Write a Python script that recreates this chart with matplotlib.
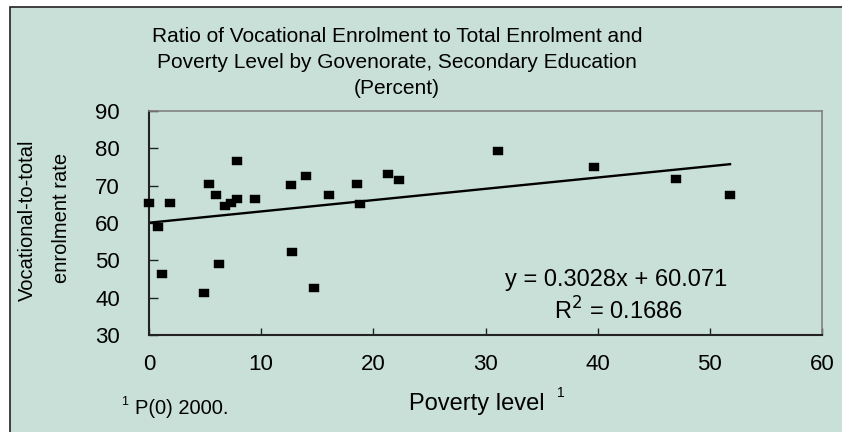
import matplotlib
matplotlib.use("Agg")
import matplotlib.pyplot as plt
from matplotlib.patches import Rectangle
import numpy as np

poverty = [0.0, 0.84, 1.13, 1.87, 4.93, 5.34, 5.96, 6.23, 6.82, 7.27, 7.83, 7.83, 9.43,
           12.67, 12.79, 13.97, 14.71, 16.01, 18.5, 18.77, 21.3, 22.3, 31.08, 39.68, 46.98, 51.8]
vocational = [65.4, 59.0, 46.4, 65.4, 41.3, 70.5, 67.4, 49.1, 64.5, 65.4, 76.6, 66.5, 66.5,
              70.2, 52.2, 72.5, 42.7, 67.4, 70.5, 65.1, 73.2, 71.5, 79.3, 74.9, 71.9, 67.4]
slope = 0.3028
intercept = 60.071
r2 = 0.1686
x_ticks = [0, 10, 20, 30, 40, 50, 60]
y_ticks = [30, 40, 50, 60, 70, 80, 90]

W, H = 842, 432
fig = plt.figure(figsize=(W / 100, H / 100), dpi=100)
fig.patch.set_facecolor("white")
bg = "#C9E0D9"
fig.patches.append(Rectangle((10 / W, -0.05), 1.0, 1 - 7 / H + 0.05, transform=fig.transFigure,
                             facecolor=bg, edgecolor="#222222", linewidth=1.2, zorder=-10))

ax = fig.add_axes([149 / W, 1 - 335 / H, (822 - 149) / W, (335 - 111) / H])
ax.set_zorder(1)
ax.set_facecolor(bg)
ax.set_xlim(0, 60)
ax.set_ylim(30, 90)
for s in ["top", "right"]:
    ax.spines[s].set_color("#808080")
    ax.spines[s].set_linewidth(1.2)
for s in ["left", "bottom"]:
    ax.spines[s].set_color("#222222")
    ax.spines[s].set_linewidth(1.5)

font = ["Liberation Sans", "DejaVu Sans"]
ax.set_xticks(x_ticks)
ax.set_yticks(y_ticks)
ax.tick_params(axis="both", direction="in", colors="#222222", labelcolor="black",
               labelsize=16, width=1.0)
ax.tick_params(axis="y", length=6.5, pad=21)
ax.tick_params(axis="x", length=5, pad=14)
for lab in ax.get_xticklabels() + ax.get_yticklabels():
    lab.set_family(font)

marker = [(-1.4, -1), (1.4, -1), (1.4, 1), (-1.4, 1), (-1.4, -1)]
ax.scatter(poverty, vocational, marker=marker, s=62, color="black", linewidths=0.3,
           edgecolors="black", zorder=3, clip_on=False)
xs = np.array([min(poverty), max(poverty)])
ax.plot(xs, slope * xs + intercept, color="black", linewidth=1.7, zorder=2)

fig.text(616 / W, 1 - 280 / H, f"y = {slope}x + {intercept}",
         ha="center", va="center", fontsize=17, family=font, zorder=5)
fig.text(618 / W, 1 - 311 / H, f"R$^{{2}}$ = {r2}",
         ha="center", va="center", fontsize=17, family=font, zorder=5)

for i, line in enumerate(["Ratio of Vocational Enrolment to Total Enrolment and",
                          "Poverty Level by Govenorate, Secondary Education",
                          "(Percent)"]):
    fig.text(397 / W, 1 - (36 + 26.5 * i) / H, line,
             ha="center", va="center", fontsize=15, family=font)

fig.text(27 / W, 1 - 220 / H, "Vocational-to-total", rotation=90, ha="center", va="center",
         fontsize=14.5, family=font)
fig.text(62 / W, 1 - 218 / H, "enrolment rate", rotation=90, ha="center", va="center",
         fontsize=14.5, family=font)

fig.text(477 / W, 1 - 404 / H, "Poverty level", ha="center", va="center", fontsize=17,
         family=font)
fig.text(557 / W, 1 - 393 / H, "1", ha="left", va="center", fontsize=10, family=font)

fig.text(121 / W, 1 - 402 / H, "1", ha="left", va="center", fontsize=9, family=font)
fig.text(135 / W, 1 - 408 / H, "P(0) 2000.", ha="left", va="center", fontsize=14.5, family=font)

fig.savefig("out.png", dpi=100, facecolor=fig.get_facecolor())
